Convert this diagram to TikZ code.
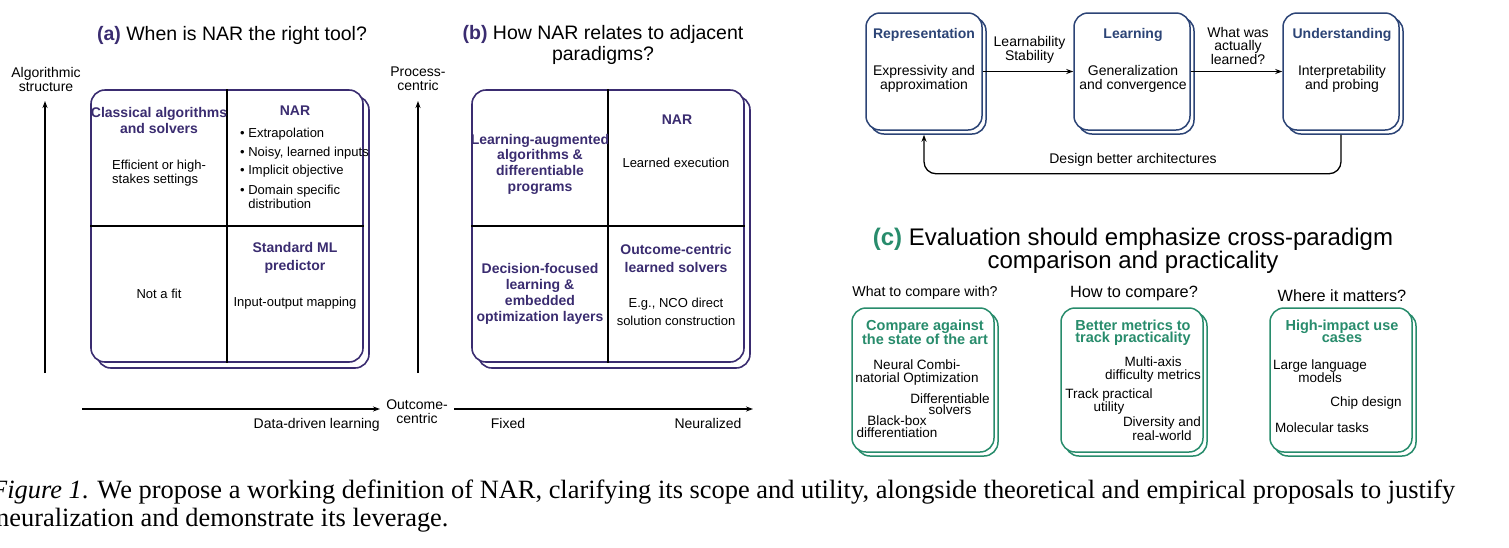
\documentclass[tikz,border=0pt]{standalone}
\usepackage{fontspec}
\setmainfont{Liberation Sans}
\newfontfamily\capfont{Liberation Serif}
\usetikzlibrary{arrows.meta,shadows}
\definecolor{purp}{RGB}{58,44,112}
\definecolor{tblue}{RGB}{44,68,118}
\definecolor{tgreen}{RGB}{40,140,108}
\newcommand{\fsz}[2]{\fontsize{#1}{#2}\selectfont}
\begin{document}
\begin{tikzpicture}[x=1pt,y=-1pt,
  every node/.style={inner sep=0pt},
  title/.style={font=\fsz{19.5}{21}, align=center},
  hd/.style={font=\bfseries\fsz{14}{16}, align=center},
  txt/.style={font=\fsz{13}{14}, align=center},
  axl/.style={font=\fsz{14}{14}, align=center},
  ax/.style={line width=1.3pt, -{Stealth[length=7pt,width=5pt]}},
  div/.style={line width=1.3pt, draw=black},
  quad/.style={draw=purp, fill=white, line width=1.6pt, rounded corners=14pt,
    minimum width=272pt, minimum height=272pt,
    copy shadow={shadow xshift=6pt, shadow yshift=-6pt, draw=purp, fill=white, line width=1.6pt}},
  flow/.style={draw=tblue, fill=white, line width=1.5pt, rounded corners=14pt,
    minimum width=116pt, minimum height=117pt,
    copy shadow={shadow xshift=4pt, shadow yshift=-4pt, draw=tblue, fill=white, line width=1.5pt}},
  evb/.style={draw=tgreen, fill=white, line width=1.5pt, rounded corners=14pt,
    minimum width=142pt, minimum height=144pt,
    copy shadow={shadow xshift=4pt, shadow yshift=-4pt, draw=tgreen, fill=white, line width=1.5pt}},
  fhd/.style={font=\bfseries\fsz{14}{16}, align=center, text=tblue},
  ftx/.style={font=\fsz{14}{14}, align=center},
  ehd/.style={font=\bfseries\fsz{14.5}{14}, align=center, text=tgreen},
  etx/.style={font=\fsz{13.5}{13}, align=center}
]
\useasboundingbox (0,0) rectangle (1509,547);
\clip (0,0) rectangle (1509,547);

% ---------------- panel (a)
\node[title] (ta) at (232,35) {\textcolor{purp}{\textbf{(a)}} When is NAR the right tool?};
\node[axl] (alg) at (46,79) {Algorithmic\\structure};
\coordinate (ayb) at (45,373);
\coordinate (ayt) at (45,101);
\draw[ax] (ayb) -- (ayt);
\coordinate (axl) at (82,409);
\coordinate (axr) at (380,409);
\draw[ax] (axl) -- (axr);
\node[axl, anchor=base east] (ddl) at (380,428) {Data-driven learning};

\node[quad] (qa) at (227,226) {};
\draw[div] (qa.north) -- (qa.south);
\draw[div] (qa.west) -- (qa.east);
\node[hd, text=purp] (a1) at (159,120) {Classical algorithms\\and solvers};
\node[txt, align=left, anchor=west] (a2) at (112,173.5) {Efficient or high-\\stakes settings};
\node[hd, text=purp] (a3) at (295,111) {NAR};
\node[txt, anchor=west] (a4) at (240,134) {•\ Extrapolation};
\node[txt, anchor=west] (a5) at (240,153) {•\ Noisy, learned inputs};
\node[txt, anchor=west] (a6) at (240,171) {•\ Implicit objective};
\node[txt, align=left, anchor=west] (a7) at (240,196.5) {•\ Domain specific\\\hphantom{•\ }distribution};
\node[hd, text=purp, font=\bfseries\fsz{14}{17.5}] (a8) at (295,258) {Standard ML\\predictor};
\node[txt] (a9) at (295,303) {Input-output mapping};
\node[txt] (a10) at (159,294) {Not a fit};

% ---------------- panel (b)
\node[title] (tb) at (603,45) {\textcolor{purp}{\textbf{(b)}} How NAR relates to adjacent\\paradigms?};
\node[axl] (pc) at (418,79) {Process-\\centric};
\coordinate (byb) at (418,373);
\coordinate (byt) at (418,101);
\draw[ax] (byb) -- (byt);
\coordinate (bxl) at (454,409);
\coordinate (bxr) at (753,409);
\draw[ax] (bxl) -- (bxr);
\node[axl] (oc) at (417,412) {Outcome-\\centric};
\node[axl, anchor=base] (fx) at (508,428) {Fixed};
\node[axl, anchor=base] (nz) at (708,428) {Neuralized};

\node[quad] (qb) at (608,226) {};
\draw[div] (qb.north) -- (qb.south);
\draw[div] (qb.west) -- (qb.east);
\node[hd, text=purp, font=\bfseries\fsz{14}{15.7}] (b1) at (540,164) {Learning-augmented\\algorithms \&\\differentiable\\programs};
\node[hd, text=purp] (b2) at (677,120) {NAR};
\node[txt] (b3) at (676,163) {Learned execution};
\node[hd, text=purp] (b4) at (540,294) {Decision-focused\\learning \&\\embedded\\optimization layers};
\node[hd, text=purp, font=\bfseries\fsz{14}{18}] (b5) at (676,258) {Outcome-centric\\learned solvers};
\node[txt, font=\fsz{13}{18}] (b6) at (676,312) {E.g., NCO direct\\solution construction};

% ---------------- top right flow
\node[flow] (rep) at (924,71.5) {};
\node[flow] (lrn) at (1132,71.5) {};
\node[flow] (und) at (1341,71.5) {};
\node[fhd] (rep1) at (924,35) {Representation};
\node[ftx] (rep2) at (924,79) {Expressivity and\\approximation};
\node[fhd] (lrn1) at (1133,35) {Learning};
\node[ftx] (lrn2) at (1133,79) {Generalization\\and convergence};
\node[fhd] (und1) at (1342,35) {Understanding};
\node[ftx] (und2) at (1342,79) {Interpretability\\and probing};
\draw[ax] (rep) -- (lrn);
\draw[ax] (lrn) -- (und);
\node[ftx] (l1) at (1029.5,50) {Learnability\\Stability};
\node[ftx, font=\fsz{14}{13.5}] (l2) at (1238,45.5) {What was\\actually\\learned?};
\draw[ax, rounded corners=12pt] ([yshift=-4pt]und.south) -- ++(0,39) -| ([yshift=-4pt]rep.south);
\node[ftx] (l3) at (1133,160) {Design better architectures};

% ---------------- panel (c)
\node[font=\fsz{24}{23}, align=center] (tc) at (1133,251) {\textcolor{tgreen}{\textbf{(c)}} Evaluation should emphasize cross-paradigm\\comparison and practicality};
\node[font=\fsz{14.2}{14}] (s1) at (925,293) {What to compare with?};
\node[font=\fsz{16.3}{16}] (s2) at (1134,293) {How to compare?};
\node[font=\fsz{16.3}{16}] (s3) at (1342,296) {Where it matters?};

\node[evb] (c1) at (923,380) {};
\node[evb] (c2) at (1132,380) {};
\node[evb] (c3) at (1341,380) {};

\node[ehd] (c1a) at (925,332) {Compare against\\the state of the art};
\node[etx] (c1b) at (917,372.5) {Neural Combi-\\natorial Optimization};
\node[etx, font=\fsz{13.5}{11}] (c1c) at (950,404) {Differentiable\\solvers};
\node[etx, font=\fsz{13.5}{12}] (c1d) at (897,426.5) {Black-box\\differentiation};

\node[ehd, font=\bfseries\fsz{14.5}{12}] (c2a) at (1133,332.5) {Better metrics to\\track practicality};
\node[etx] (c2b) at (1153,369.5) {Multi-axis\\difficulty metrics};
\node[etx] (c2c) at (1109,401.5) {Track practical\\utility};
\node[etx, font=\fsz{13.5}{11.5}] (c2d) at (1162,428.5) {Diversity and\\real-world};

\node[ehd, font=\bfseries\fsz{14.5}{11.5}] (c3a) at (1342,331.5) {High-impact use\\cases};
\node[etx] (c3b) at (1320,371.5) {Large language\\models};
\node[etx] (c3c) at (1366,403) {Chip design};
\node[etx] (c3d) at (1322,428) {Molecular tasks};

% ---------------- caption
\node[anchor=base west, font=\capfont\fsz{26.4}{28}] (cap1) at (-9,498)
  {\makebox[1464pt][s]{\textit{Figure 1}. We propose a working definition of NAR, clarifying its scope and utility, alongside theoretical and empirical proposals to justify}};
\node[anchor=base west, font=\capfont\fsz{26.4}{28}] (cap2) at (-4,526)
  {neuralization and demonstrate its leverage.};
\end{tikzpicture}
\end{document}
